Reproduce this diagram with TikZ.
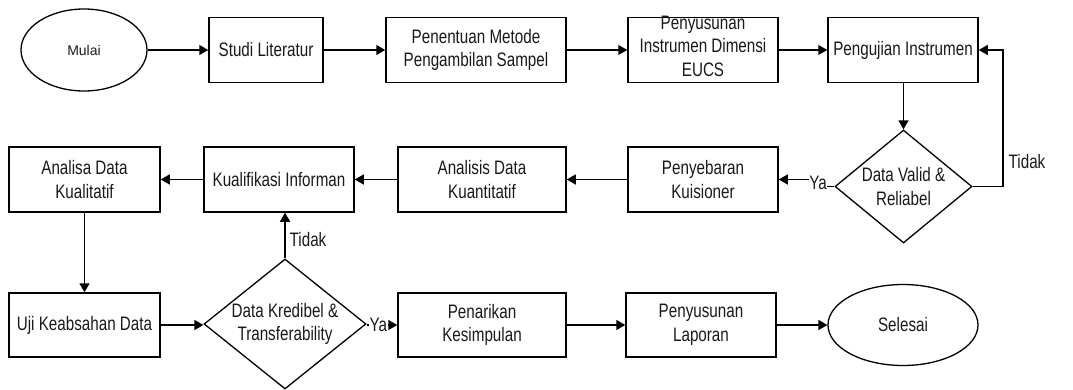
\documentclass[tikz,border=0pt]{standalone}
\usepackage{fontspec}
\setmainfont[FakeStretch=0.78]{Liberation Sans}
\newfontfamily\plainsans{Liberation Sans}
\usetikzlibrary{shapes.geometric,arrows.meta}
\begin{document}
\begin{tikzpicture}[x=1pt,y=-1pt,
  every node/.style={font=\fontsize{19.5}{23.5}\selectfont, text=black!90},
  box/.style={draw, line width=1.5pt, rectangle, minimum height=65, inner sep=0pt, align=center},
  oval/.style={draw, line width=1.3pt, ellipse, inner sep=0pt, align=center},
  dia/.style={draw, line width=1.3pt, diamond, inner sep=0pt},
  lbl/.style={font=\fontsize{19.5}{22}\selectfont, inner sep=0.5pt},
  arr/.style={line width=1.5pt, -{Triangle[length=9pt,width=10pt]}}]
\useasboundingbox (0,0) rectangle (1073,390);
% row 1
\node[oval, minimum width=126, minimum height=82, font=\plainsans\fontsize{14}{16}\selectfont] (mulai) at (84,50) {Mulai};
\node[box, minimum width=114] (studi) at (266,50) {Studi Literatur};
\node[box, minimum width=180] (penentuan) at (476,50) {Penentuan Metode\\Pengambilan Sampel};
\node[box, minimum width=150] (penyusunan) at (703,50) {};
\node[align=center] (penyusunantext) at (703,46) {Penyusunan\\Instrumen Dimensi\\EUCS};
\node[box, minimum width=150] (pengujian) at (903,50) {Pengujian Instrumen};
% row 2
\node[box, minimum width=151] (analisa) at (84.5,179.5) {Analisa Data\\Kualitatif};
\node[box, minimum width=150] (kualifikasi) at (279,179.5) {Kualifikasi Informan};
\node[box, minimum width=168] (kuantitatif) at (482,179.5) {Analisis Data\\Kuantitatif};
\node[box, minimum width=150] (penyebaran) at (703,179.5) {Penyebaran\\Kuisioner};
\node[dia, minimum width=137, minimum height=113] (dv) at (903.5,186.5) {};
\node[align=center] (dvtext) at (903.5,186.5) {Data Valid \&\\Reliabel};
% row 3
\node[box, minimum width=151, minimum height=64] (uji) at (84.5,325) {Uji Keabsahan Data};
\node[dia, minimum width=162, minimum height=130] (dk) at (285,324) {};
\node[align=center] (dktext) at (285,324) {Data Kredibel \&\\Transferability};
\node[box, minimum width=168, minimum height=64] (penarikan) at (482,325) {Penarikan\\Kesimpulan};
\node[box, minimum width=150, minimum height=64] (laporan) at (701,325) {Penyusunan\\Laporan};
\node[oval, minimum width=150, minimum height=81] (selesai) at (903,325) {Selesai};
% connectors row 1
\draw[arr] (mulai.east) -- (studi.west);
\draw[arr] (studi.east) -- (penentuan.west);
\draw[arr] (penentuan.east) -- (penyusunan.west);
\draw[arr] (penyusunan.east) -- (pengujian.west);
\draw[arr] (pengujian.south -| dv.north) -- (dv.north);
\coordinate (tidakbend) at (1003,186.5);
\draw[arr] (dv.east) -- (tidakbend) |- (pengujian.east);
\node[lbl, anchor=west] (tidak1) at (1008,162) {Tidak};
% Ya to penyebaran
\coordinate (yabend) at (812,186.5);
\draw[arr] (dv.west) -- (yabend) -- (yabend |- penyebaran.east) -- (penyebaran.east);
\node[lbl, fill=white] (ya1) at (818,183) {Ya};
% row 2
\draw[arr] (penyebaran.west) -- (kuantitatif.east);
\draw[arr] (kuantitatif.west) -- (kualifikasi.east);
\draw[arr] (kualifikasi.west) -- (analisa.east);
\draw[arr] (analisa.south) -- (uji.north);
% row 3
\draw[arr] (uji.east) -- (uji.east -| dk.west);
\draw[arr] (dk.east |- penarikan.west) -- (penarikan.west) node[lbl, fill=white, pos=0.38] (ya2) {Ya};
\draw[arr] (dk.north) -- (dk.north |- kualifikasi.south);
\node[lbl, anchor=west] (tidak2) at (289,240) {Tidak};
\draw[arr] (penarikan.east) -- (laporan.west);
\draw[arr] (laporan.east) -- (selesai.west);
\end{tikzpicture}
\end{document}
